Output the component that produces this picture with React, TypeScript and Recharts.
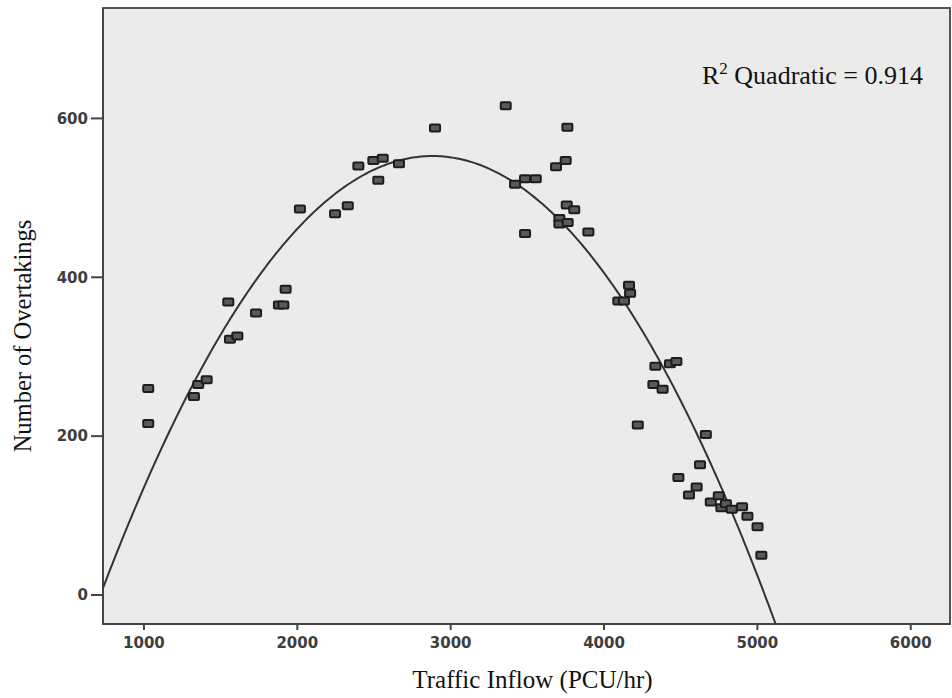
import { ScatterChart, Scatter, XAxis, YAxis, CartesianGrid, ReferenceArea, Label } from 'recharts';

// Observed traffic inflow (PCU/hr) and overtakings per survey interval
const inflow = [
  1028, 1028, 1326, 1354, 1409, 1550, 1561, 1609, 1731, 1880, 1909, 1924,
  2017, 2246, 2329, 2398, 2496, 2528, 2557, 2663, 2898, 3359, 3420, 3485,
  3555, 3485, 3687, 3750, 3761, 3757, 3806, 3709, 3709, 3763, 3898, 4093,
  4130, 4163, 4170, 4220, 4322, 4335, 4382, 4430, 4472, 4485, 4554, 4604,
  4626, 4664, 4696, 4748, 4765, 4795, 4833, 4900, 4935, 5001, 5026,
];
const overtakings = [
  260, 216, 250, 265, 271, 369, 322, 326, 355, 365, 365, 385,
  486, 480, 490, 540, 547, 522, 550, 543, 588, 616, 517, 524,
  524, 455, 539, 547, 589, 491, 485, 474, 467, 469, 457, 370,
  370, 390, 380, 214, 265, 288, 259, 291, 294, 148, 126, 136,
  164, 202, 117, 125, 110, 115, 108, 111, 99, 86, 50,
];

const xTicks = [1000, 2000, 3000, 4000, 5000, 6000];
const yTicks = [0, 200, 400, 600];
const xDomain: [number, number] = [733, 6256];
const yDomain: [number, number] = [-36.5, 739];

const points = inflow.map((x, i) => ({ x, y: overtakings[i] }));

// least squares quadratic fit y = b0 + b1 x + b2 x^2
function fitQuadratic(pts: { x: number; y: number }[]) {
  const s = [0, 0, 0, 0, 0];
  const t = [0, 0, 0];
  for (const p of pts) {
    const u = p.x / 1000;
    for (let k = 0; k < 5; k++) s[k] += Math.pow(u, k);
    for (let k = 0; k < 3; k++) t[k] += p.y * Math.pow(u, k);
  }
  const m = [
    [s[0], s[1], s[2], t[0]],
    [s[1], s[2], s[3], t[1]],
    [s[2], s[3], s[4], t[2]],
  ];
  for (let i = 0; i < 3; i++) {
    for (let j = i + 1; j < 3; j++) {
      const f = m[j][i] / m[i][i];
      for (let k = i; k < 4; k++) m[j][k] -= f * m[i][k];
    }
  }
  const c = [0, 0, 0];
  for (let i = 2; i >= 0; i--) {
    let v = m[i][3];
    for (let k = i + 1; k < 3; k++) v -= m[i][k] * c[k];
    c[i] = v / m[i][i];
  }
  return (x: number) => c[0] + c[1] * (x / 1000) + c[2] * (x / 1000) ** 2;
}

const fit = fitQuadratic(points);

// sample the fitted curve across the plot, stopping where it leaves the bottom
const curve: { x: number; y: number }[] = [];
for (let x = xDomain[0]; x <= xDomain[1]; x += 10) {
  const y = fit(x);
  if (y < yDomain[0]) {
    // step back to the crossing point
    let lo = x - 10;
    let hi = x;
    for (let k = 0; k < 30; k++) {
      const mid = (lo + hi) / 2;
      if (fit(mid) < yDomain[0]) hi = mid;
      else lo = mid;
    }
    curve.push({ x: lo, y: fit(lo) });
    break;
  }
  if (y <= yDomain[1]) curve.push({ x, y });
}

const tickStyle = {
  fontFamily: 'DejaVu Sans, sans-serif',
  fontWeight: 700,
  fontSize: 15,
  fill: '#3d3d3d',
};
const serif = 'Liberation Serif, Times New Roman, serif';

const Marker = (props: any) => {
  const { cx, cy } = props;
  if (cx == null || cy == null) return <g />;
  return (
    <rect
      x={cx - 5}
      y={cy - 3.5}
      width={10}
      height={7}
      rx={1}
      fill="#5a5a5a"
      stroke="#1c1c1c"
      strokeWidth={2}
    />
  );
};

export default function App() {
  return (
    <div style={{ position: 'absolute', left: 0, top: 0, background: '#fff' }}>
      <ScatterChart
        width={952}
        height={698}
        margin={{ top: 8, right: 2, bottom: 0, left: 0 }}
      >
        <CartesianGrid fill="#ebebeb" horizontal={false} vertical={false} />
        <ReferenceArea
          x1={xDomain[0]}
          x2={xDomain[1]}
          y1={yDomain[0]}
          y2={yDomain[1]}
          fill="none"
          stroke="#555"
          strokeWidth={2}
          label={(p: any) => {
            const vb = p.viewBox;
            return (
              <text
                x={vb.x + vb.width - 27}
                y={vb.y + 76}
                textAnchor="end"
                fontFamily={serif}
                fontSize={26}
                fill="#111"
              >
                R<tspan dy={-10} fontSize={17}>2</tspan>
                <tspan dy={10}> Quadratic = 0.914</tspan>
              </text>
            );
          }}
        />
        <XAxis
          type="number"
          dataKey="x"
          domain={xDomain}
          ticks={xTicks}
          allowDataOverflow
          height={74}
          tickSize={6}
          tickMargin={7}
          tick={tickStyle}
          axisLine={{ stroke: '#444', strokeWidth: 2 }}
          tickLine={{ stroke: '#444', strokeWidth: 2 }}
        >
          <Label
            content={(p: any) => {
              const vb = p.viewBox;
              return (
                <text
                  x={vb.x + vb.width / 2 + 6}
                  y={vb.y + 64}
                  textAnchor="middle"
                  fontFamily={serif}
                  fontSize={25}
                  fill="#111"
                >
                  Traffic Inflow (PCU/hr)
                </text>
              );
            }}
          />
        </XAxis>
        <YAxis
          type="number"
          dataKey="y"
          domain={yDomain}
          ticks={yTicks}
          allowDataOverflow
          width={103}
          tickSize={12}
          tickMargin={3}
          tick={tickStyle}
          axisLine={{ stroke: '#444', strokeWidth: 2 }}
          tickLine={{ stroke: '#444', strokeWidth: 2 }}
        >
          <Label
            content={(p: any) => {
              const vb = p.viewBox;
              const cy = vb.y + vb.height / 2 + 20;
              return (
                <text
                  transform={`translate(31, ${cy}) rotate(-90)`}
                  textAnchor="middle"
                  fontFamily={serif}
                  fontSize={24.5}
                  fill="#111"
                >
                  Number of Overtakings
                </text>
              );
            }}
          />
        </YAxis>
        <Scatter
          data={curve}
          line={{ stroke: '#333', strokeWidth: 2 }}
          lineType="joint"
          shape={() => <g />}
          isAnimationActive={false}
        />
        <Scatter data={points} shape={<Marker />} isAnimationActive={false} />
      </ScatterChart>
    </div>
  );
}
